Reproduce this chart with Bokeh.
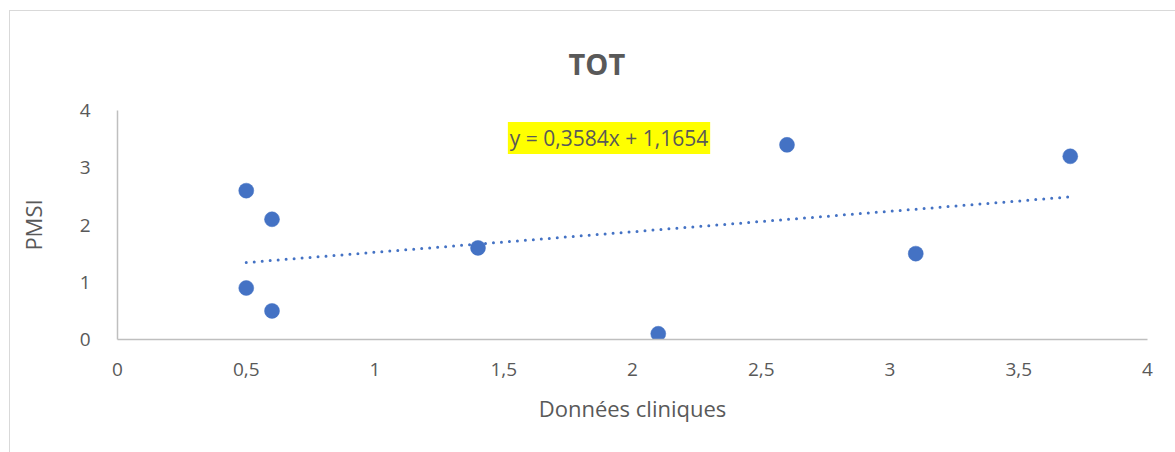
import numpy as np
from bokeh.plotting import figure
from bokeh.models import Range1d, Label, CustomJSTickFormatter, FixedTicker
from bokeh.embed import file_html
from bokeh.resources import INLINE

x_vals = [0.5, 0.5, 0.6, 0.6, 1.4, 2.1, 2.6, 3.1, 3.7]
y_vals = [2.6, 0.9, 2.1, 0.5, 1.6, 0.1, 3.4, 1.5, 3.2]
x_ticks = [0, 0.5, 1, 1.5, 2, 2.5, 3, 3.5, 4]
y_ticks = [0, 1, 2, 3, 4]
title_text = "TOT"
x_label = "Données cliniques"
y_label = "PMSI"

FONT = "Open Sans"
TXT = "#595959"
BLUE = "#4472C4"

W, H = 1166, 442
p = figure(width=W, height=H, output_backend="svg", toolbar_location=None,
           x_range=Range1d(0, 4), y_range=Range1d(0, 4),
           min_border_left=107, min_border_right=29, min_border_top=99, min_border_bottom=114)
p.styles = {"margin-left": "9px", "margin-top": "10px",
            "border-left": "1px solid #d9d9d9", "border-top": "1px solid #d9d9d9",
            "box-sizing": "border-box"}
p.outline_line_color = None
p.xgrid.grid_line_color = None
p.ygrid.grid_line_color = None
p.background_fill_color = "white"
p.border_fill_color = "white"

fmt = CustomJSTickFormatter(code="return String(tick).replace('.', ',');")
for ax, ticks in ((p.xaxis[0], x_ticks), (p.yaxis[0], y_ticks)):
    ax.ticker = FixedTicker(ticks=ticks)
    ax.formatter = fmt
    ax.axis_line_color = "#bfbfbf"
    ax.axis_line_width = 1.5
    ax.major_tick_line_color = None
    ax.minor_tick_line_color = None
    ax.major_label_text_font = FONT
    ax.major_label_text_font_size = "19px"
    ax.major_label_text_color = TXT
    ax.axis_label_text_font = FONT
    ax.axis_label_text_font_size = "22px"
    ax.axis_label_text_color = TXT
    ax.axis_label_text_font_style = "normal"

p.xaxis.major_label_standoff = 17
p.yaxis.major_label_standoff = 21
p.xaxis.axis_label = x_label
p.yaxis.axis_label = y_label
p.xaxis.axis_label_standoff = 14
p.yaxis.axis_label_standoff = 29

p.title.text = title_text
p.title.align = "left"
p.title.text_font = FONT
p.title.text_font_size = "29px"
p.title.text_font_style = "bold"
p.title.text_color = TXT
p.title.offset = 451
p.title.standoff = 56

# trendline (least squares)
slope, intercept = np.polyfit(x_vals, y_vals, 1)
tx = np.array([min(x_vals), max(x_vals)])
ty = slope * tx + intercept
p.line(tx, ty, line_color=BLUE, line_width=3, line_dash="0 8", line_cap="round")

p.scatter(x_vals, y_vals, size=15, fill_color=BLUE, line_color=BLUE, line_width=0.5)

eq = "y = " + f"{slope:.4f}".replace(".", ",") + "x + " + f"{intercept:.4f}".replace(".", ",")
p.add_layout(Label(x=1.516, y=3.52, text=eq, text_font=FONT, text_font_size="21px",
                   text_color=TXT, text_baseline="middle", background_fill_color="#FFFF00",
                   padding=2, x_offset=0))

open("out.html", "w").write(file_html(p, INLINE))
